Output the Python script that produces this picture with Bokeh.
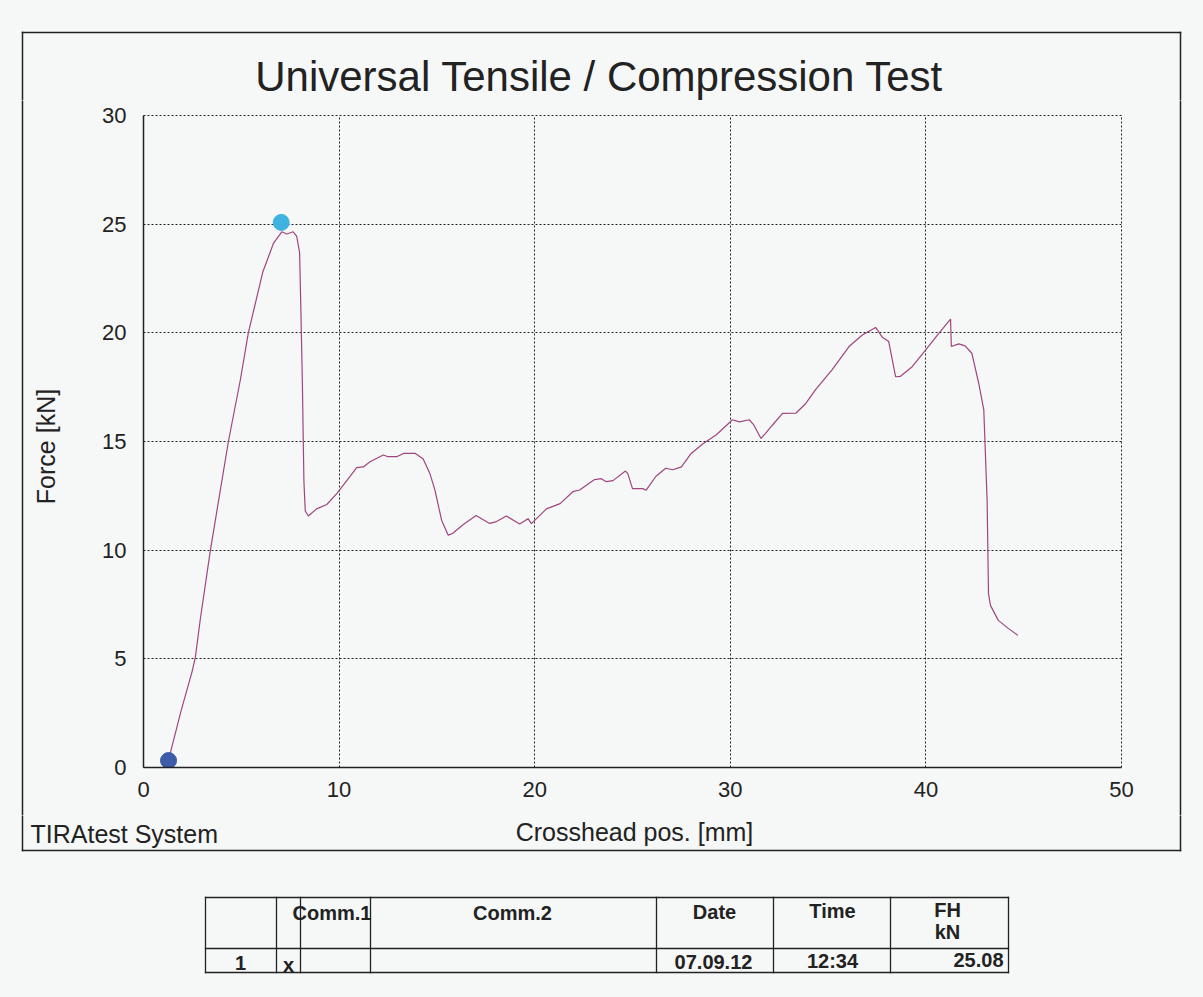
import math
from bokeh.plotting import figure
from bokeh.models import Range1d, ColumnDataSource
from bokeh.layouts import column, row
from bokeh.core.properties import value
from bokeh.embed import file_html
from bokeh.resources import INLINE

# ---- data ----
pos_mm = [1.28, 1.38, 1.89, 2.48, 2.65, 2.9, 3.42, 4.34, 4.95, 5.36, 6.1, 6.65, 7.07, 7.33, 7.65,
          7.83, 7.98, 8.05, 8.12, 8.2, 8.27, 8.43, 8.85, 9.37, 9.88, 10.56, 10.9, 11.24, 11.58,
          12.26, 12.5, 12.94, 13.3, 13.9, 14.3, 14.64, 14.9, 15.24, 15.58, 15.8, 16.3, 17.0,
          17.7, 18.0, 18.55, 19.23, 19.66, 19.83, 20.6, 21.3, 21.95, 22.3, 23.06, 23.4, 23.66,
          24.0, 24.64, 24.76, 25.0, 25.53, 25.7, 26.2, 26.7, 27.06, 27.5, 28.0, 28.6, 29.27,
          29.95, 30.1, 30.46, 30.97, 31.2, 31.57, 31.8, 32.16, 32.67, 33.35, 33.86, 34.37, 35.2,
          36.07, 36.75, 37.43, 37.77, 38.1, 38.45, 38.7, 39.3, 39.98, 40.66, 41.26, 41.3, 41.68,
          42.0, 42.35, 42.7, 42.96, 43.13, 43.2, 43.3, 43.7, 44.23, 44.7]
force_kN = [0.32, 0.7, 2.5, 4.4, 5.07, 6.8, 10.0, 15.0, 17.83, 20.0, 22.8, 24.13, 24.65, 24.55, 24.65,
            24.45, 23.7, 20.9, 17.8, 13.2, 11.8, 11.57, 11.9, 12.1, 12.6, 13.4, 13.8, 13.83, 14.07,
            14.38, 14.3, 14.3, 14.45, 14.45, 14.2, 13.53, 12.76, 11.38, 10.69, 10.77, 11.15, 11.6,
            11.23, 11.3, 11.57, 11.2, 11.45, 11.22, 11.9, 12.14, 12.69, 12.77, 13.25, 13.29, 13.15,
            13.2, 13.64, 13.52, 12.83, 12.83, 12.76, 13.4, 13.77, 13.7, 13.83, 14.45, 14.9, 15.3,
            15.86, 16.0, 15.9, 16.0, 15.76, 15.14, 15.37, 15.76, 16.29, 16.3, 16.75, 17.4, 18.3,
            19.37, 19.9, 20.25, 19.8, 19.6, 17.98, 18.0, 18.44, 19.2, 19.98, 20.63, 19.37, 19.49,
            19.4, 19.06, 17.68, 16.45, 12.3, 8.0, 7.46, 6.77, 6.39, 6.08]
start_x = [1.28]
start_y = [0.32]
peak_x = [7.04]
peak_y = [25.08]
x_ticks = [0, 10, 20, 30, 40, 50]
y_ticks = [0, 5, 10, 15, 20, 25, 30]

title_text = "Universal Tensile / Compression Test"
x_label = "Crosshead pos. [mm]"
y_label = "Force [kN]"
system_text = "TIRAtest System"

table_header = ["Comm.1", "Comm.2", "Date", "Time", "FH", "kN"]
table_row = ["1", "x", "07.09.12", "12:34", "25.08"]

# ---- layout (page pixels) ----
W, H = 1203, 997
BG = "#f6f7f7"
INK = "#222222"
FONT = "Liberation Sans"
TOP_H = 100          # top strip: page y 0..100
MID_B = 815          # chart row: page y 100..815
L_END, R_START = 70, 1150   # side strips: x 0..70 and 1150..1203
FL, FR, FT, FB = 143, 1121, 115, 767   # plot frame in page pixels
BOX = (22, 1180, 32, 850)              # outer frame of the printout


def no_align(f):
    try:
        f.frame_align = False
    except Exception:
        pass


def strip(x0, x1, y0, y1):
    f = figure(width=x1 - x0, height=y1 - y0, output_backend="svg", toolbar_location=None,
               x_range=Range1d(x0, x1), y_range=Range1d(y1, y0),
               x_axis_type=None, y_axis_type=None,
               min_border=0, min_border_left=0, min_border_right=0,
               min_border_top=0, min_border_bottom=0)
    f.background_fill_color = BG
    f.border_fill_color = BG
    f.outline_line_color = None
    f.xgrid.visible = False
    f.ygrid.visible = False
    no_align(f)
    return f


def seg(f, x0, y0, x1, y1, w=1.5):
    f.segment(x0=x0, y0=y0, x1=x1, y1=y1, line_color=INK, line_width=w, line_cap="square")


def txt(f, x, y, t, size, align="center", bold=False, angle=0.0):
    f.text(x=x, y=y, text=t, text_font=value(FONT), text_font_size=value(size),
           text_font_style="bold" if bold else "normal", text_color=INK,
           text_align=align, text_baseline="middle", angle=angle)


bl, br, bt, bb = BOX

# top strip: title and upper part of the printout frame
top = strip(0, W, 0, TOP_H)
seg(top, [bl, bl, br], [bt, bt, bt], [br, bl, br], [bt, TOP_H + 3, TOP_H + 3])
txt(top, [599], [76], [title_text], "42px")

# side strips
left = strip(0, L_END, TOP_H, MID_B)
seg(left, [bl], [TOP_H - 3], [bl], [MID_B + 3])
txt(left, [45], [446], [y_label], "25px", angle=math.pi / 2)
right = strip(R_START, W, TOP_H, MID_B)
seg(right, [br], [TOP_H - 3], [br], [MID_B + 3])

# chart
p = figure(width=R_START - L_END, height=MID_B - TOP_H, output_backend="svg", toolbar_location=None,
           x_range=Range1d(0, 50), y_range=Range1d(0, 30),
           min_border_left=FL - L_END, min_border_right=R_START - FR,
           min_border_top=FT - TOP_H, min_border_bottom=MID_B - FB)
no_align(p)
p.background_fill_color = BG
p.border_fill_color = BG
p.outline_line_color = INK
p.outline_line_dash = "2 2"
p.outline_line_width = 1

for ax in (p.xaxis[0], p.yaxis[0]):
    ax.major_tick_line_color = None
    ax.minor_tick_line_color = None
    ax.axis_line_color = INK
    ax.axis_line_width = 1.5
    ax.major_label_text_font = FONT
    ax.major_label_text_font_size = "22px"
    ax.major_label_text_color = INK

p.xaxis.ticker = x_ticks
p.yaxis.ticker = y_ticks
p.xaxis.major_label_standoff = 8
p.yaxis.major_label_standoff = 11

for g in (p.xgrid[0], p.ygrid[0]):
    g.grid_line_color = INK
    g.grid_line_dash = "2 2"
    g.grid_line_width = 1
p.xgrid.ticker = x_ticks
p.ygrid.ticker = y_ticks

src = ColumnDataSource(dict(x=pos_mm, y=force_kN))
p.line("x", "y", source=src, line_color="#a0467e", line_width=1.2)
p.scatter(start_x, start_y, size=16, color="#3d5ba9")
p.scatter(peak_x, peak_y, size=16, color="#3fb3e0")

# bottom strip: axis title, system name, lower frame and table
bot = strip(0, W, MID_B, H)
seg(bot, [bl, br, bl], [MID_B - 3, MID_B - 3, bb], [bl, br, br], [bb, bb, bb])
txt(bot, [634], [831], [x_label], "25px")
txt(bot, [30], [833], [system_text], "25px", align="left")

col_edges = [205, 276, 300, 370, 656, 773, 890, 1008]
t_top, t_mid, t_bot = 897, 948, 972
seg(bot, col_edges, [t_top] * len(col_edges), col_edges, [t_bot] * len(col_edges), 1.3)
seg(bot, [col_edges[0]] * 3, [t_top, t_mid, t_bot], [col_edges[-1]] * 3, [t_top, t_mid, t_bot], 1.3)

txt(bot, [292], [912], [table_header[0]], "20px", align="left", bold=True)
txt(bot, [512, 714, 832, 947, 947], [912, 911, 910, 909, 931], table_header[1:], "20px", bold=True)
txt(bot, [240, 288, 713, 832], [962, 964, 961, 960], table_row[:4], "20px", bold=True)
txt(bot, [1003], [959], [table_row[4]], "20px", align="right", bold=True)

layout = column(top, row(left, p, right, spacing=0), bot, spacing=0,
                styles={"background-color": BG})
open("out.html", "w").write(file_html(layout, INLINE))
